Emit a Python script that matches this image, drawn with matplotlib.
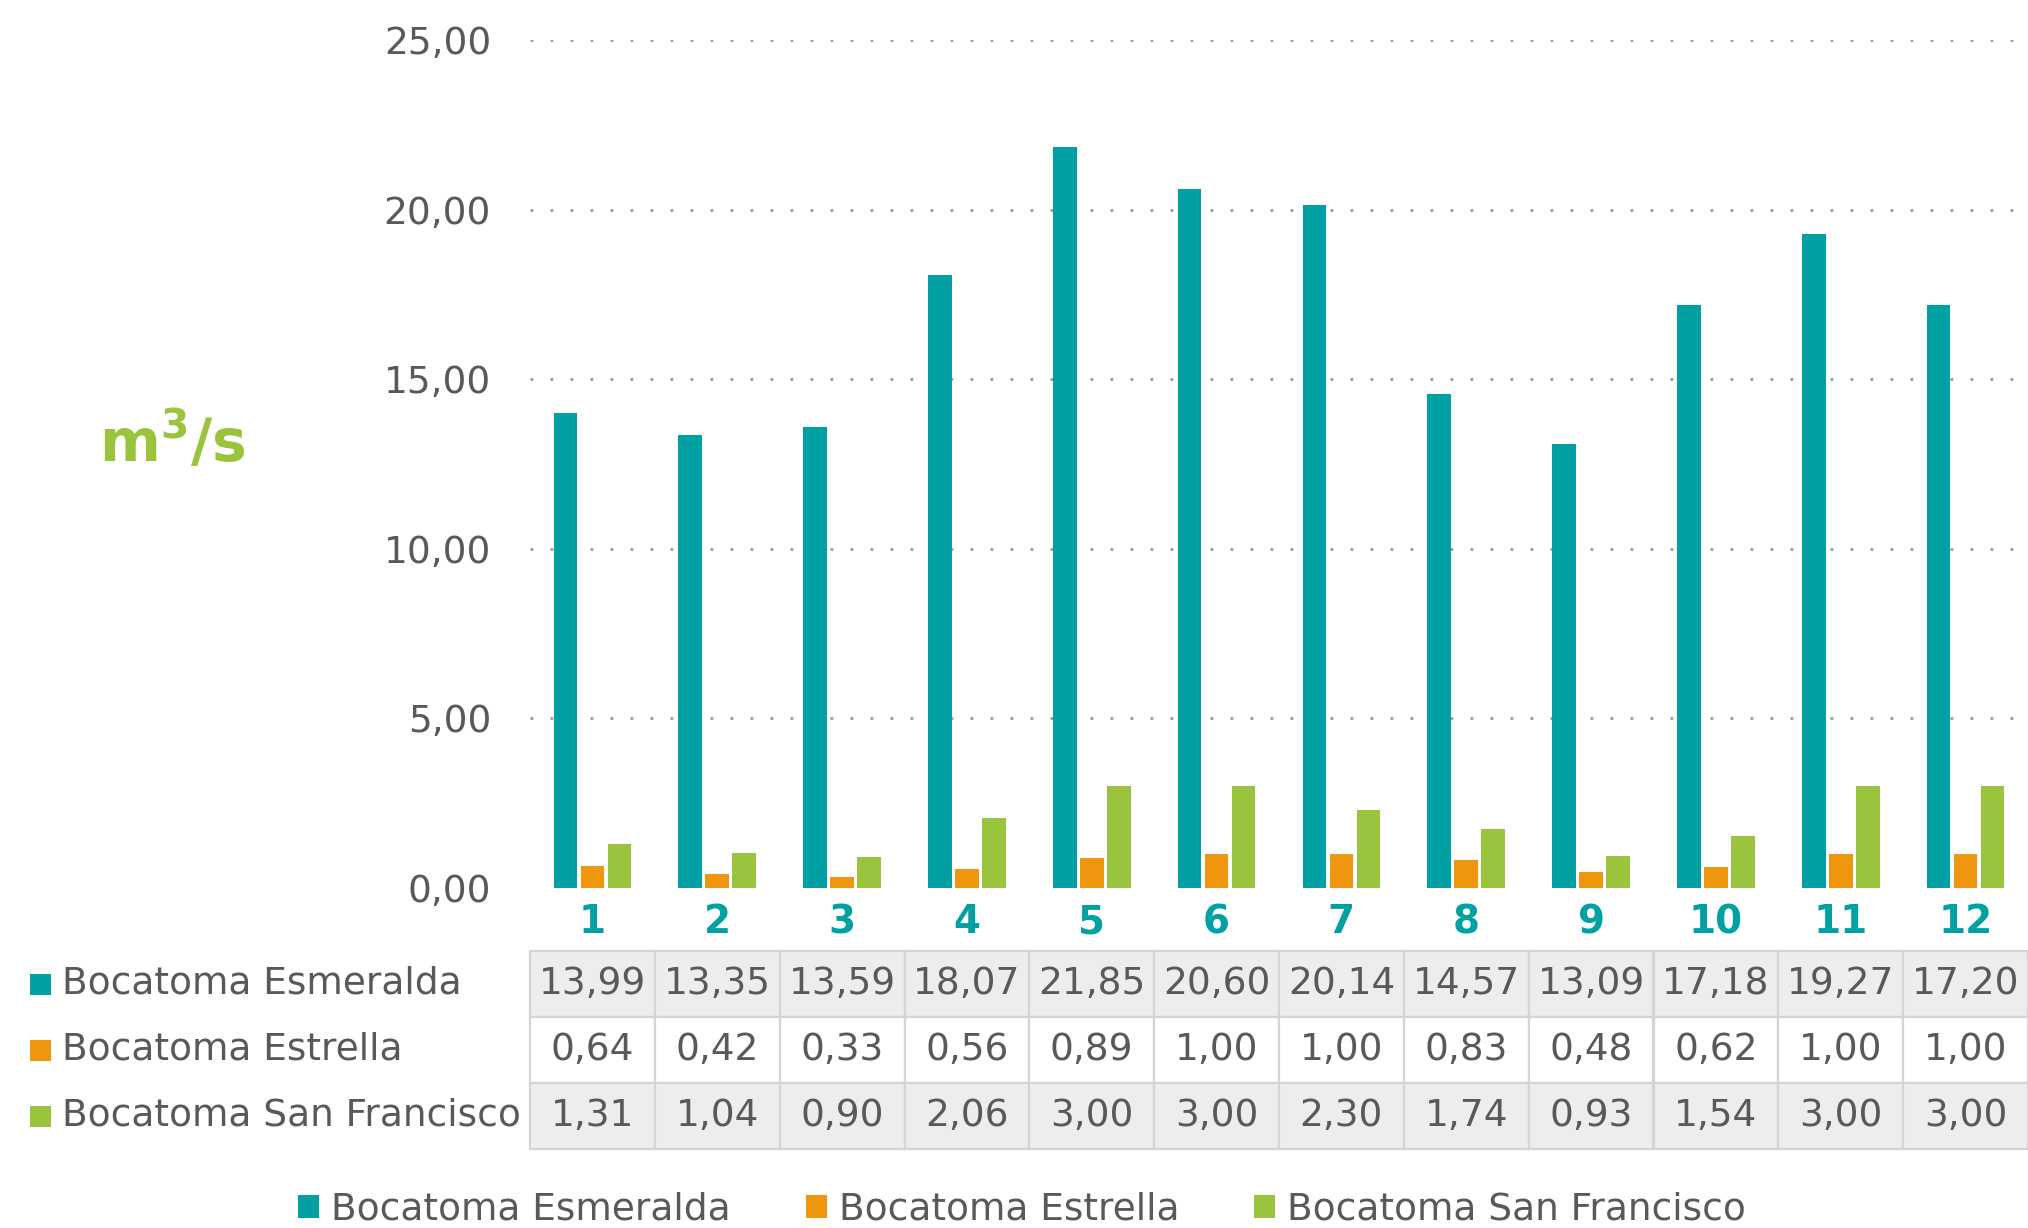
import matplotlib
matplotlib.use('Agg')
import matplotlib.pyplot as plt
from matplotlib.patches import Rectangle
from matplotlib.ticker import FuncFormatter
import numpy as np

months = ['1', '2', '3', '4', '5', '6', '7', '8', '9', '10', '11', '12']
series_names = ['Bocatoma Esmeralda', 'Bocatoma Estrella', 'Bocatoma San Francisco']
esmeralda = [13.99, 13.35, 13.59, 18.07, 21.85, 20.60, 20.14, 14.57, 13.09, 17.18, 19.27, 17.20]
estrella = [0.64, 0.42, 0.33, 0.56, 0.89, 1.00, 1.00, 0.83, 0.48, 0.62, 1.00, 1.00]
san_francisco = [1.31, 1.04, 0.90, 2.06, 3.00, 3.00, 2.30, 1.74, 0.93, 1.54, 3.00, 3.00]
yticks = [0, 5, 10, 15, 20, 25]

colors = ['#00A0A3', '#F0960E', '#9BC43E']
text_gray = '#595959'
W, H = 2028, 1228


def comma(v):
    return '{:.2f}'.format(v).replace('.', ',')


def fx(px):
    return px / W


def fy(py):
    return 1 - py / H


plt.rcParams['font.family'] = 'DejaVu Sans'
plt.rcParams['mathtext.default'] = 'bf'
fig = plt.figure(figsize=(W / 100, H / 100), dpi=100)

left, right = 530, 2028
ax = fig.add_axes([fx(left), fy(888), fx(right - left), fy(40) - fy(888)])

x = np.arange(len(months))
data = [esmeralda, estrella, san_francisco]
offsets = [-0.216, 0, 0.216]
bars = []
for vals, off, c, name in zip(data, offsets, colors, series_names):
    bars.append(ax.bar(x + off, vals, width=0.19, color=c, linewidth=0, label=name))

ax.set_xlim(-0.5, len(months) - 0.5)
ax.set_ylim(0, 25)
ax.set_yticks(yticks)
ax.yaxis.set_major_formatter(FuncFormatter(lambda v, p: comma(v)))
ax.set_xticks(x, months)
ax.tick_params(axis='y', length=0, pad=28, labelsize=27, labelcolor=text_gray)
ax.tick_params(axis='x', length=0, pad=11, labelsize=28, labelcolor=colors[0])
for lb in ax.get_xticklabels():
    lb.set_fontweight('bold')
for s in ax.spines.values():
    s.set_visible(False)
ax.set_axisbelow(True)
ax.yaxis.grid(True, linestyle=(0, (1, 6.2)), linewidth=2.0, color='#9A9A9A')
ax.get_ygridlines()[0].set_visible(False)

fig.text(fx(172), fy(443), r'm$^{3}$/s', color='#9BC43E', fontsize=42,
         fontweight='bold', ha='center', va='center')

# data table under the chart
top, row_h = 951, 66
tax = fig.add_axes([fx(left), fy(top + 3 * row_h), fx(right - left), fy(top) - fy(top + 3 * row_h)])
tax.set_xlim(-0.5, len(months) - 0.5)
tax.set_ylim(3, 0)
tax.axis('off')
for r, vals in enumerate(data):
    fill = '#EDEDED' if r != 1 else 'white'
    for c, v in enumerate(vals):
        tax.add_patch(Rectangle((c - 0.5, r), 1, 1, facecolor=fill,
                                edgecolor='#D4D4D4', linewidth=1.6, clip_on=False))
        tax.text(c, r + 0.5, comma(v), ha='center', va='center',
                 fontsize=27, color=text_gray)
    yc = top + row_h * (r + 0.5)
    fig.patches.append(Rectangle((fx(30), fy(yc + 10.5)), fx(21), fy(yc - 10.5) - fy(yc + 10.5),
                                 facecolor=colors[r], linewidth=0, transform=fig.transFigure))
    fig.text(fx(62), fy(yc), series_names[r], ha='left', va='center',
             fontsize=27, color=text_gray)

leg = fig.legend(handles=bars, loc='center', bbox_to_anchor=(fx(1022), fy(1210)),
                 ncol=3, frameon=False, fontsize=27, handlelength=0.56, handleheight=0.56,
                 handletextpad=0.32, columnspacing=2.0, borderaxespad=0, borderpad=0)
for t in leg.get_texts():
    t.set_color(text_gray)

fig.savefig('out.png', dpi=100)
